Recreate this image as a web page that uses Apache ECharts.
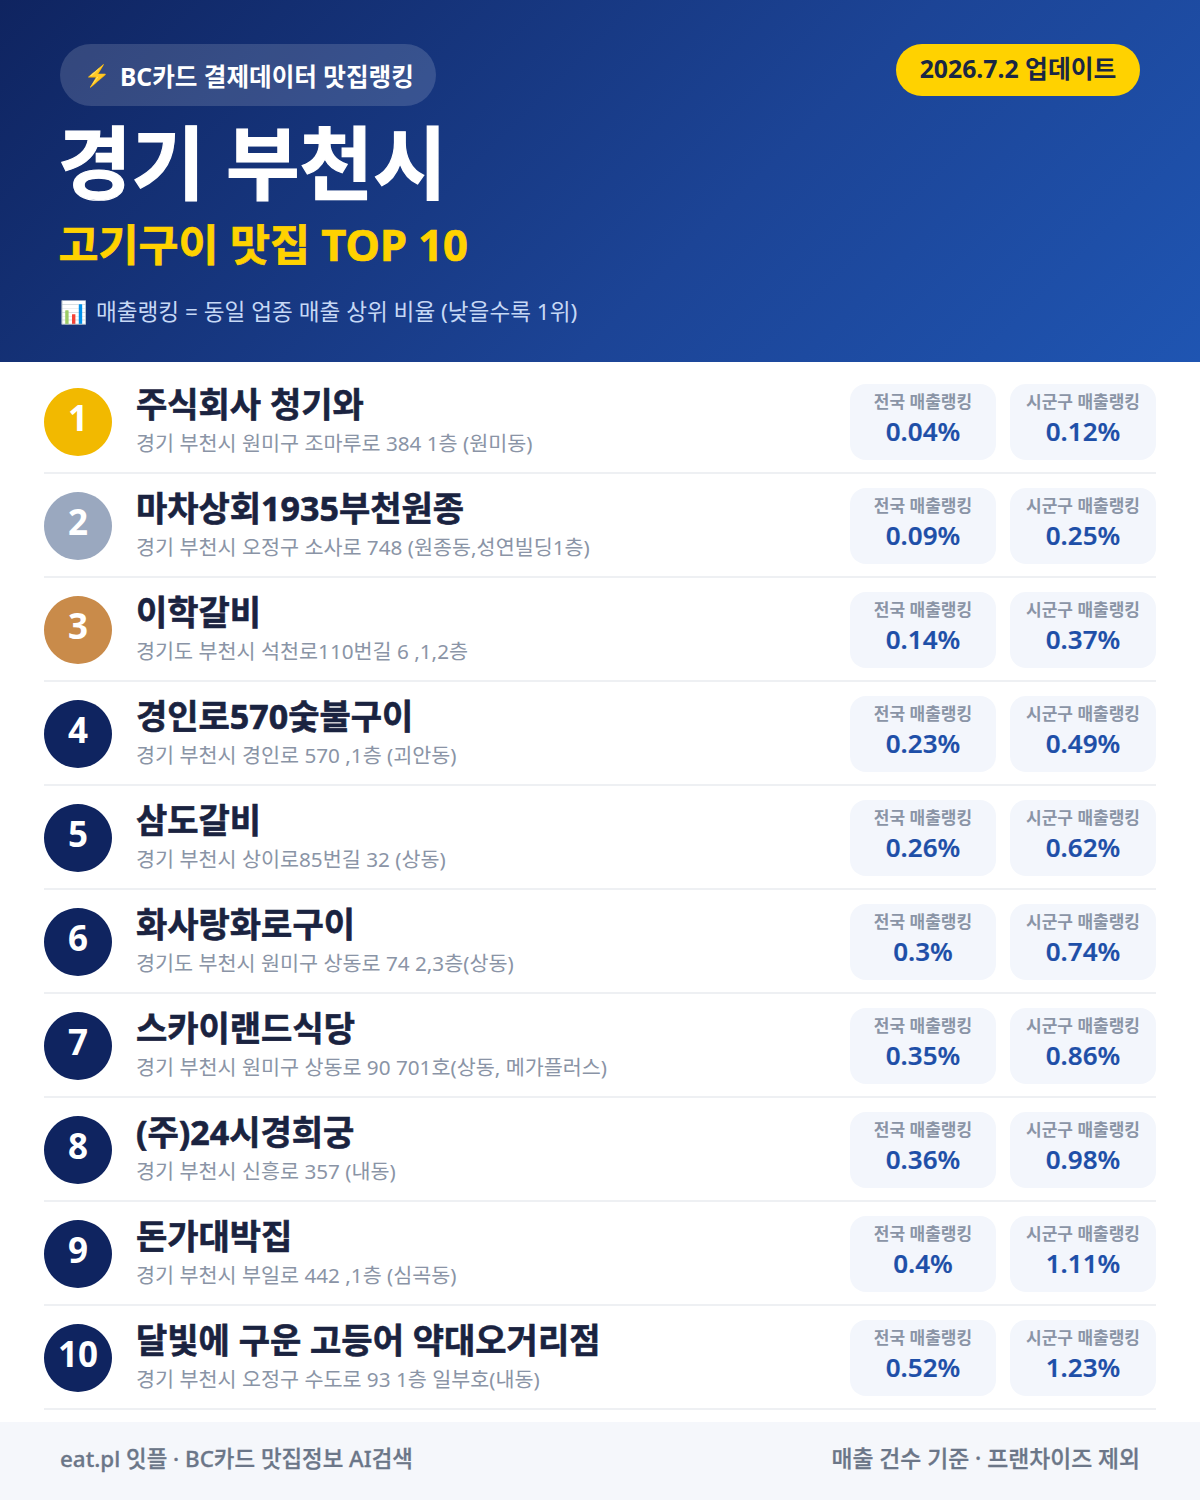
<!DOCTYPE html>
<html><head><meta charset="utf-8">
<style>html,body{margin:0;padding:0;background:#fff}#c{width:1200px;height:1500px}</style>
<script src="https://cdn.jsdelivr.net/npm/echarts@6/dist/echarts.min.js"></script>
</head><body><div id="c"></div>
<script>
const ranks=['1','2','3','4','5','6','7','8','9','10'];
const names=['주식회사 청기와','마차상회1935부천원종','이학갈비','경인로570숯불구이','삼도갈비','화사랑화로구이','스카이랜드식당','(주)24시경희궁','돈가대박집','달빛에 구운 고등어 약대오거리점'];
const addresses=['경기 부천시 원미구 조마루로 384 1층 (원미동)','경기 부천시 오정구 소사로 748 (원종동,성연빌딩1층)','경기도 부천시 석천로110번길 6 ,1,2층','경기 부천시 경인로 570 ,1층 (괴안동)','경기 부천시 상이로85번길 32 (상동)','경기도 부천시 원미구 상동로 74 2,3층(상동)','경기 부천시 원미구 상동로 90 701호(상동, 메가플러스)','경기 부천시 신흥로 357 (내동)','경기 부천시 부일로 442 ,1층 (심곡동)','경기 부천시 오정구 수도로 93 1층 일부호(내동)'];
const nationalRank=[0.04,0.09,0.14,0.23,0.26,0.3,0.35,0.36,0.4,0.52];
const localRank=[0.12,0.25,0.37,0.49,0.62,0.74,0.86,0.98,1.11,1.23];
const medalColors=['#F2B900','#9AA8BF','#C98B4A'];
const F='"Noto Sans","Noto Sans CJK KR",sans-serif';
const chart=echarts.init(document.getElementById('c'),null,{renderer:'svg',width:1200,height:1500});
const txt=(x,y,t,size,weight,fill,align,bold)=>({type:'text',z:5,style:Object.assign({x,y,text:t,font:`${weight} ${size}px ${F}`,fill,textAlign:align||'left',textVerticalAlign:'middle'},bold?{stroke:fill,lineWidth:bold}:{})});
chart.setOption({
 animation:false,
 grid:{left:0,right:0,top:370,height:1040},
 xAxis:{type:'value',min:0,max:1200,show:false},
 yAxis:{type:'category',data:ranks,inverse:true,show:false},
 graphic:[
  {type:'rect',z:1,shape:{x:0,y:0,width:1200,height:362},style:{fill:new echarts.graphic.LinearGradient(209.5,-209.5,990.5,571.5,[{offset:0,color:'#0F2460'},{offset:0.6,color:'#1C4496'},{offset:1,color:'#1F55B2'}],true)}},
  {type:'rect',z:1,shape:{x:0,y:1422,width:1200,height:78},style:{fill:'#F5F7FB'}},
  {type:'rect',z:2,shape:{x:60,y:44,width:376,height:62,r:31},style:{fill:'rgba(255,255,255,0.15)'}},
  {type:'rect',z:2,shape:{x:896,y:44,width:244,height:52,r:26},style:{fill:'#FFD200'}},
  txt(84,75,'⚡',21,700,'#FFC83D'),
  txt(120,76,'BC카드 결제데이터 맛집랭킹',24.6,700,'#FFFFFF'),
  txt(1018,68,'2026.7.2 업데이트',24.8,700,'#1A2744','center'),
  txt(58,161,'경기 부천시',80,700,'#FFFFFF','left',1.2),
  txt(58.5,244,'고기구이 맛집 TOP 10',43.5,700,'#FFD200','left',0.7),
  txt(60,311,'📊',22,400,'#BFD3F5'),
  txt(96,311,'매출랭킹 = 동일 업종 매출 상위 비율 (낮을수록 1위)',22.6,400,'#C6D8F5'),
  txt(60,1458,'eat.pl 잇플 · BC카드 맛집정보 AI검색',22.4,500,'#6B7688','left',0.3),
  txt(1140,1458,'매출 건수 기준 · 프랜차이즈 제외',22.8,500,'#6B7688','right',0.3)
 ],
 series:[{
  type:'custom',
  coordinateSystem:'cartesian2d',
  clip:false,
  data:ranks.map((r,i)=>[0,i]),
  renderItem:(p,api)=>{
   const i=api.value(1);
   const [,cy]=api.coord([0,i]);
   const card=(x,label,val)=>[
    {type:'rect',shape:{x,y:cy-38,width:146,height:76,r:16},style:{fill:'#F3F6FC'}},
    txt(x+73,cy-21,label,17,700,'#8A94A6','center'),
    txt(x+73,cy+9,val+'%',26,600,'#1E4FA8','center',0.2)
   ];
   return {type:'group',children:[
    {type:'rect',shape:{x:44,y:cy+50,width:1112,height:2},style:{fill:'#EEF0F3'}},
    {type:'circle',shape:{cx:78,cy,r:34},style:{fill:medalColors[i]||'#0F2460'}},
    txt(78,cy-5,ranks[i],35,700,'#FFFFFF','center'),
    txt(136,cy-18,names[i],34,700,'#1A2340','left',0.6),
    txt(136,cy+21,addresses[i],20.7,400,'#8A94A6'),
    ...card(850,'전국 매출랭킹',nationalRank[i]),
    ...card(1010,'시군구 매출랭킹',localRank[i])
   ]};
  }
 }]
});
</script></body></html>
